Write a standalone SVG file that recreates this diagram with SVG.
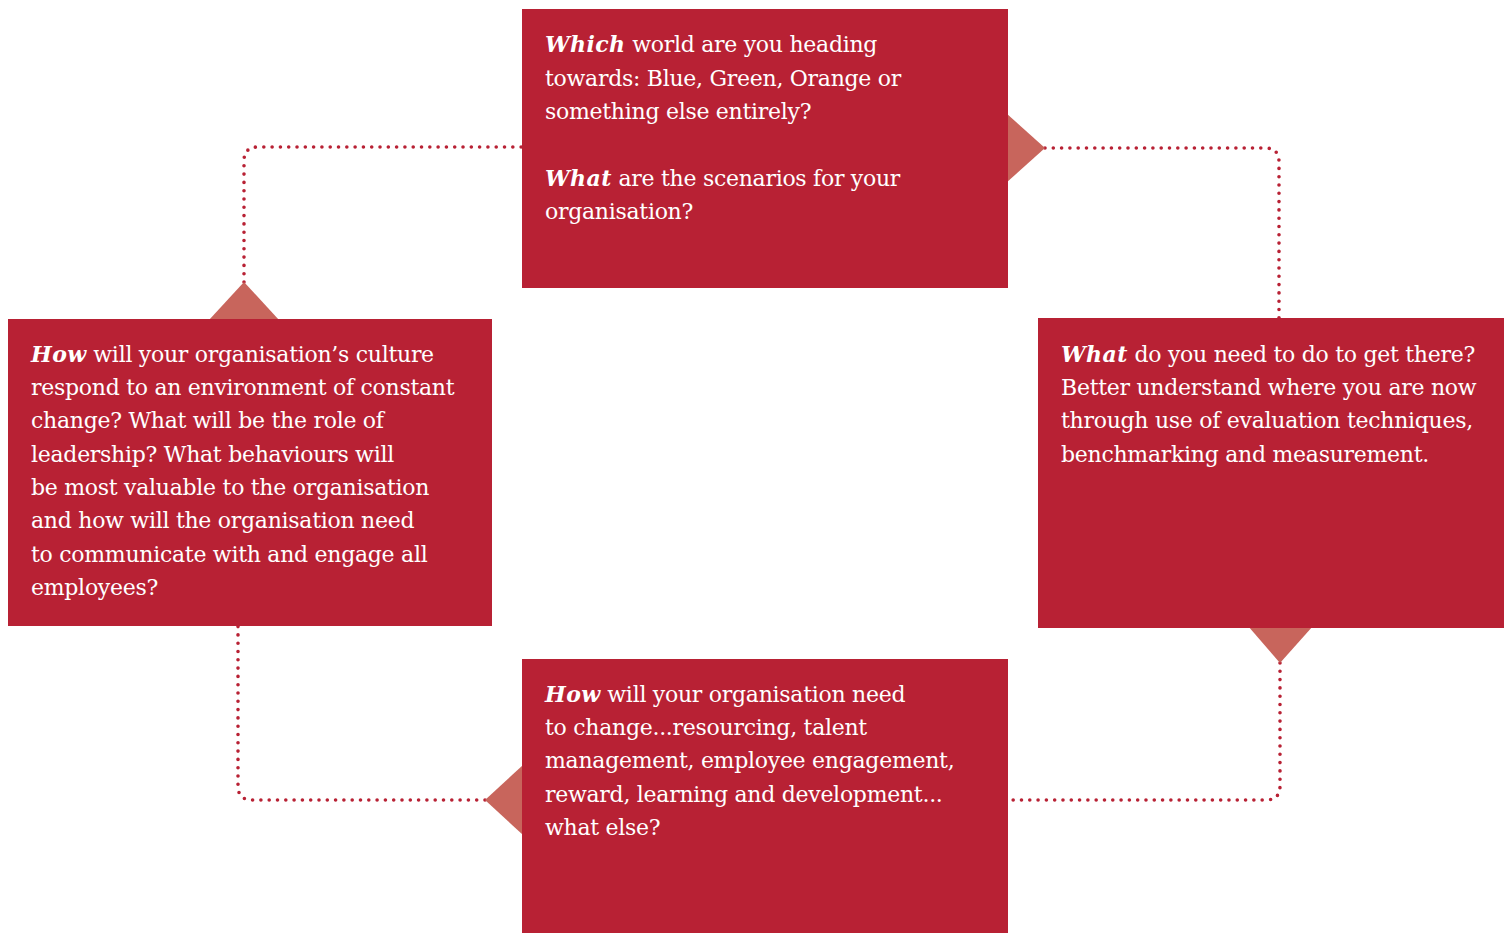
<svg xmlns="http://www.w3.org/2000/svg" width="1504" height="933" viewBox="0 0 1504 933">
<style>
.box{fill:#B82134}
.tri{fill:#C8655C}
.dot{fill:none;stroke:#B82134;stroke-width:3.6;stroke-linecap:round;stroke-dasharray:0 8.3}
text{font-family:"DejaVu Serif","Liberation Serif",serif;font-size:22px;letter-spacing:-0.28px;fill:#ffffff}
.b{font-weight:bold;font-style:italic;letter-spacing:0.4px}
</style>
<rect width="1504" height="933" fill="#ffffff"/>
<g id="connectors">
<path class="dot" d="M1045,148 H1265 Q1279,148 1279,162 V318"/>
<path class="dot" d="M1280,663 V786 Q1280,800 1266,800 H1012"/>
<path class="dot" d="M485,800 H252 Q238,800 238,786 V626"/>
<path class="dot" d="M244,282 V161 Q244,147 258,147 H522"/>
</g>
<g id="node-top">
<polygon class="tri" points="1006,113 1045,148 1006,183"/>
<rect class="box" x="522" y="9" width="486" height="279"/>
<text x="545" y="52"><tspan class="b">Which</tspan> world are you heading</text>
<text x="545" y="86">towards: Blue, Green, Orange or</text>
<text x="545" y="119">something else entirely?</text>
<text x="545" y="186"><tspan class="b">What</tspan> are the scenarios for your</text>
<text x="545" y="219">organisation?</text>
</g>
<g id="node-right">
<polygon class="tri" points="1248,626 1313,626 1280,663"/>
<rect class="box" x="1038" y="318" width="466" height="310"/>
<text x="1061" y="362"><tspan class="b">What</tspan> do you need to do to get there?</text>
<text x="1061" y="395">Better understand where you are now</text>
<text x="1061" y="428">through use of evaluation techniques,</text>
<text x="1061" y="462">benchmarking and measurement.</text>
</g>
<g id="node-bottom">
<polygon class="tri" points="523,765 485,800 523,835"/>
<rect class="box" x="522" y="659" width="486" height="274"/>
<text x="545" y="702"><tspan class="b">How</tspan> will your organisation need</text>
<text x="545" y="735">to change...resourcing, talent</text>
<text x="545" y="768">management, employee engagement,</text>
<text x="545" y="802">reward, learning and development...</text>
<text x="545" y="835">what else?</text>
</g>
<g id="node-left">
<polygon class="tri" points="209,320 279,320 244,282"/>
<rect class="box" x="8" y="319" width="484" height="307"/>
<text x="31" y="362"><tspan class="b">How</tspan> will your organisation’s culture</text>
<text x="31" y="395">respond to an environment of constant</text>
<text x="31" y="428">change? What will be the role of</text>
<text x="31" y="462">leadership? What behaviours will</text>
<text x="31" y="495">be most valuable to the organisation</text>
<text x="31" y="528">and how will the organisation need</text>
<text x="31" y="562">to communicate with and engage all</text>
<text x="31" y="595">employees?</text>
</g>
</svg>
